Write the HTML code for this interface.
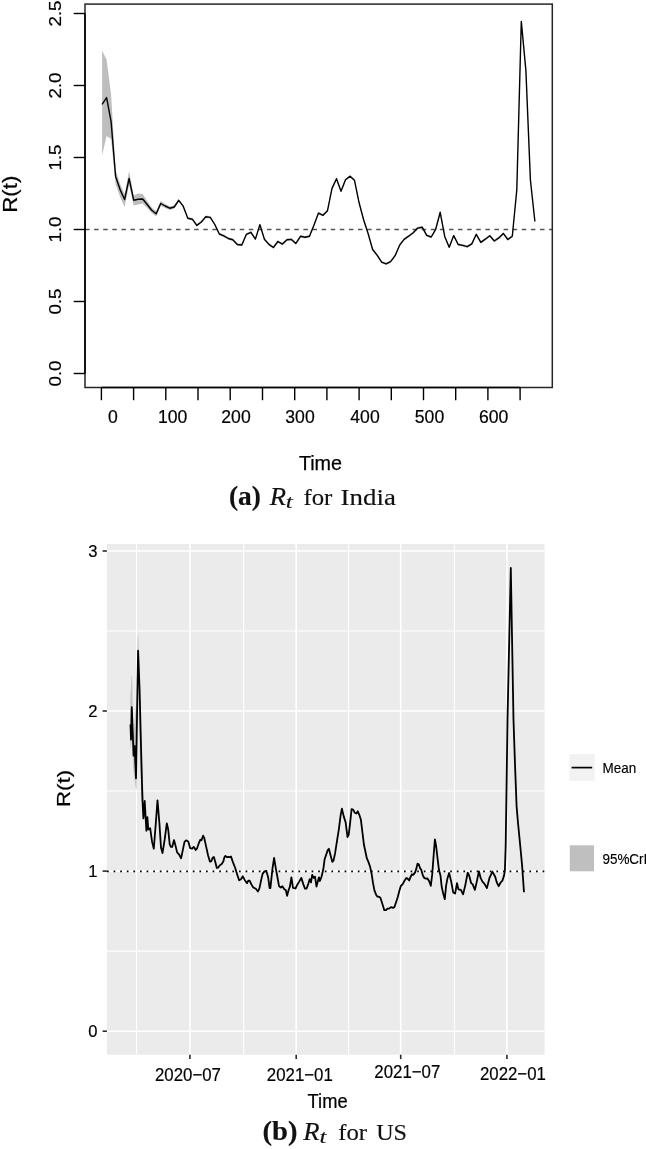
<!DOCTYPE html>
<html lang="en"><head><meta charset="utf-8"><title>R(t) for India and US</title>
<style>
html,body{margin:0;padding:0;background:#fff;}
body{width:646px;height:1149px;overflow:hidden;}
svg{display:block;}
</style></head><body>
<svg width="646" height="1149" viewBox="0 0 646 1149">
<rect width="646" height="1149" fill="#fff"/>
<g font-family="'Liberation Sans', sans-serif" fill="#000" stroke="#000" stroke-width="0">
<path d="M102.1,50.5 L106.6,59.8 L111.1,94.5 L115.6,170.0 L120.1,184.0 L124.6,194.0 L129.1,171.0 L133.7,195.5 L138.2,193.5 L142.7,194.0 L147.2,201.0 L151.7,207.5 L156.2,211.0 L160.7,201.0 L165.2,204.0 L169.7,206.5 L174.2,205.3 L178.7,198.8 L178.7,201.8 L174.2,208.7 L169.7,210.0 L165.2,208.0 L160.7,206.0 L156.2,216.5 L151.7,213.0 L147.2,208.0 L142.7,203.5 L138.2,204.5 L133.7,205.5 L129.1,185.0 L124.6,207.0 L120.1,197.0 L115.6,184.0 L111.1,139.0 L106.6,136.0 L102.1,155.2Z" fill="#bebebe"/>
<path d="M178.7,199.0 L183.2,204.9 L187.8,217.0 L192.3,217.9 L196.8,224.1 L201.3,220.7 L205.8,215.4 L210.3,216.1 L214.8,223.2 L219.3,232.7 L223.8,234.6 L228.3,237.2 L232.8,238.4 L237.3,243.2 L241.8,243.7 L246.4,233.0 L250.9,231.0 L255.4,237.8 L259.9,223.3 L264.4,237.9 L268.9,243.1 L273.4,246.2 L277.9,240.2 L282.4,242.8 L286.9,238.5 L291.4,238.1 L295.9,242.1 L300.5,235.0 L305.0,236.0 L309.5,235.0 L314.0,223.7 L318.5,211.8 L323.0,214.0 L327.5,209.4 L332.0,187.1 L336.5,177.4 L341.0,189.9 L345.5,178.4 L350.0,175.0 L354.5,179.0 L359.1,201.5 L363.6,218.5 L368.1,232.2 L372.6,248.2 L377.1,253.8 L381.6,260.9 L386.1,262.5 L390.6,260.4 L395.1,254.4 L399.6,243.9 L404.1,238.0 L408.6,234.9 L413.2,231.5 L417.7,226.8 L422.2,225.9 L426.7,234.0 L431.2,235.7 L435.7,228.0 L440.2,211.0 L444.7,235.1 L449.2,245.9 L453.7,234.3 L458.2,243.2 L462.7,244.1 L467.2,245.4 L471.8,242.6 L476.3,233.0 L480.8,241.0 L485.3,237.9 L489.8,234.5 L494.3,239.7 L498.8,236.6 L503.3,232.1 L507.8,238.2 L512.3,234.9 L512.3,237.5 L507.8,240.8 L503.3,234.7 L498.8,239.2 L494.3,242.3 L489.8,237.1 L485.3,240.5 L480.8,243.6 L476.3,235.6 L471.8,245.2 L467.2,248.0 L462.7,246.7 L458.2,245.8 L453.7,236.9 L449.2,248.5 L444.7,237.7 L440.2,213.6 L435.7,230.6 L431.2,238.3 L426.7,236.6 L422.2,228.5 L417.7,229.4 L413.2,234.1 L408.6,237.5 L404.1,240.6 L399.6,246.5 L395.1,257.0 L390.6,263.0 L386.1,265.1 L381.6,263.5 L377.1,256.4 L372.6,250.8 L368.1,234.8 L363.6,221.1 L359.1,204.1 L354.5,181.6 L350.0,177.6 L345.5,181.0 L341.0,192.5 L336.5,180.0 L332.0,189.7 L327.5,212.0 L323.0,216.6 L318.5,214.4 L314.0,226.3 L309.5,237.6 L305.0,238.6 L300.5,237.6 L295.9,244.7 L291.4,240.7 L286.9,241.1 L282.4,245.4 L277.9,242.8 L273.4,248.8 L268.9,245.7 L264.4,240.5 L259.9,225.9 L255.4,240.4 L250.9,233.6 L246.4,235.6 L241.8,246.3 L237.3,245.8 L232.8,241.0 L228.3,239.8 L223.8,237.2 L219.3,235.3 L214.8,225.8 L210.3,218.7 L205.8,218.0 L201.3,223.3 L196.8,226.7 L192.3,220.5 L187.8,219.6 L183.2,207.5 L178.7,201.6Z" fill="#c8c8c8"/>
<line x1="85" x2="552.3" y1="229.5" y2="229.5" stroke="#555" stroke-width="1.3" stroke-dasharray="4.5 4.6" stroke-dashoffset="0"/>
<path d="M102.1,104.4 L106.6,97.6 L111.1,121.7 L115.6,176.4 L120.1,189.6 L124.6,199.5 L129.1,178.5 L133.7,200.2 L138.2,199.3 L142.7,199.0 L147.2,204.5 L151.7,210.3 L156.2,213.8 L160.7,203.5 L165.2,206.0 L169.7,208.2 L174.2,207.0 L178.7,200.3 L183.2,206.2 L187.8,218.3 L192.3,219.2 L196.8,225.4 L201.3,222.0 L205.8,216.7 L210.3,217.4 L214.8,224.5 L219.3,234.0 L223.8,235.9 L228.3,238.5 L232.8,239.7 L237.3,244.5 L241.8,245.0 L246.4,234.3 L250.9,232.3 L255.4,239.1 L259.9,224.6 L264.4,239.2 L268.9,244.4 L273.4,247.5 L277.9,241.5 L282.4,244.1 L286.9,239.8 L291.4,239.4 L295.9,243.4 L300.5,236.3 L305.0,237.3 L309.5,236.3 L314.0,225.0 L318.5,213.1 L323.0,215.3 L327.5,210.7 L332.0,188.4 L336.5,178.7 L341.0,191.2 L345.5,179.7 L350.0,176.3 L354.5,180.3 L359.1,202.8 L363.6,219.8 L368.1,233.5 L372.6,249.5 L377.1,255.1 L381.6,262.2 L386.1,263.8 L390.6,261.7 L395.1,255.7 L399.6,245.2 L404.1,239.3 L408.6,236.2 L413.2,232.8 L417.7,228.1 L422.2,227.2 L426.7,235.3 L431.2,237.0 L435.7,229.3 L440.2,212.3 L444.7,236.4 L449.2,247.2 L453.7,235.6 L458.2,244.5 L462.7,245.4 L467.2,246.7 L471.8,243.9 L476.3,234.3 L480.8,242.3 L485.3,239.2 L489.8,235.8 L494.3,241.0 L498.8,237.9 L503.3,233.4 L507.8,239.5 L512.3,236.2 L516.8,189.7 L521.3,21.4 L525.9,70.6 L530.4,180.0 L534.9,221.5" fill="none" stroke="#000" stroke-width="1.4" stroke-linejoin="round"/>
<rect x="85" y="4.1" width="467.3" height="383.4" fill="none" stroke="#262626" stroke-width="1.5"/>
<path d="M85,13.5 V373.5 M101.4,387.5 H520.2" fill="none" stroke="#000" stroke-width="1.55"/>
<line x1="73.7" x2="85" y1="373.5" y2="373.5" stroke="#000" stroke-width="1.4"/>
<text transform="translate(61.3,373.5) rotate(-90) scale(1.09,1)" text-anchor="middle" font-size="17.3" stroke-width="0.2">0.0</text>
<line x1="73.7" x2="85" y1="301.5" y2="301.5" stroke="#000" stroke-width="1.4"/>
<text transform="translate(61.3,301.5) rotate(-90) scale(1.09,1)" text-anchor="middle" font-size="17.3" stroke-width="0.2">0.5</text>
<line x1="73.7" x2="85" y1="229.5" y2="229.5" stroke="#000" stroke-width="1.4"/>
<text transform="translate(61.3,229.5) rotate(-90) scale(1.09,1)" text-anchor="middle" font-size="17.3" stroke-width="0.2">1.0</text>
<line x1="73.7" x2="85" y1="157.5" y2="157.5" stroke="#000" stroke-width="1.4"/>
<text transform="translate(61.3,157.5) rotate(-90) scale(1.09,1)" text-anchor="middle" font-size="17.3" stroke-width="0.2">1.5</text>
<line x1="73.7" x2="85" y1="85.5" y2="85.5" stroke="#000" stroke-width="1.4"/>
<text transform="translate(61.3,85.5) rotate(-90) scale(1.09,1)" text-anchor="middle" font-size="17.3" stroke-width="0.2">2.0</text>
<line x1="73.7" x2="85" y1="13.5" y2="13.5" stroke="#000" stroke-width="1.4"/>
<text transform="translate(61.3,13.5) rotate(-90) scale(1.09,1)" text-anchor="middle" font-size="17.3" stroke-width="0.2">2.5</text>
<line x1="101.4" x2="101.4" y1="387.5" y2="400.2" stroke="#000" stroke-width="1.4"/>
<line x1="133.6" x2="133.6" y1="387.5" y2="400.2" stroke="#000" stroke-width="1.4"/>
<line x1="165.8" x2="165.8" y1="387.5" y2="400.2" stroke="#000" stroke-width="1.4"/>
<line x1="198.0" x2="198.0" y1="387.5" y2="400.2" stroke="#000" stroke-width="1.4"/>
<line x1="230.2" x2="230.2" y1="387.5" y2="400.2" stroke="#000" stroke-width="1.4"/>
<line x1="262.5" x2="262.5" y1="387.5" y2="400.2" stroke="#000" stroke-width="1.4"/>
<line x1="294.7" x2="294.7" y1="387.5" y2="400.2" stroke="#000" stroke-width="1.4"/>
<line x1="326.9" x2="326.9" y1="387.5" y2="400.2" stroke="#000" stroke-width="1.4"/>
<line x1="359.1" x2="359.1" y1="387.5" y2="400.2" stroke="#000" stroke-width="1.4"/>
<line x1="391.3" x2="391.3" y1="387.5" y2="400.2" stroke="#000" stroke-width="1.4"/>
<line x1="423.5" x2="423.5" y1="387.5" y2="400.2" stroke="#000" stroke-width="1.4"/>
<line x1="455.7" x2="455.7" y1="387.5" y2="400.2" stroke="#000" stroke-width="1.4"/>
<line x1="487.9" x2="487.9" y1="387.5" y2="400.2" stroke="#000" stroke-width="1.4"/>
<line x1="520.1" x2="520.1" y1="387.5" y2="400.2" stroke="#000" stroke-width="1.4"/>
<text x="113.0" y="422.7" text-anchor="middle" font-size="17.6" stroke-width="0.2">0</text>
<text x="172.7" y="422.7" text-anchor="middle" font-size="17.6" stroke-width="0.2">100</text>
<text x="236.0" y="422.7" text-anchor="middle" font-size="17.6" stroke-width="0.2">200</text>
<text x="300.0" y="422.7" text-anchor="middle" font-size="17.6" stroke-width="0.2">300</text>
<text x="365.0" y="422.7" text-anchor="middle" font-size="17.6" stroke-width="0.2">400</text>
<text x="429.5" y="422.7" text-anchor="middle" font-size="17.6" stroke-width="0.2">500</text>
<text x="493.7" y="422.7" text-anchor="middle" font-size="17.6" stroke-width="0.2">600</text>
<text transform="translate(16.7,194.2) rotate(-90) scale(1.15,1)" text-anchor="middle" font-size="19.3" stroke-width="0.22">R(t)</text>
<text x="320.5" y="470" text-anchor="middle" font-size="19.8" stroke-width="0.25">Time</text>
</g>
<g font-family="'Liberation Serif', serif" fill="#111" font-size="22.6" stroke="#111" stroke-width="0.15">
<text x="228.9" y="504.8" font-weight="bold" font-size="26.5" textLength="32" lengthAdjust="spacingAndGlyphs">(a)</text>
<text x="269.8" y="504.8" font-style="italic" font-size="24.3" textLength="16.3" lengthAdjust="spacingAndGlyphs">R</text>
<text x="285.8" y="507.7" font-style="italic" font-size="18.5" textLength="7" lengthAdjust="spacingAndGlyphs">t</text>
<text x="303.4" y="504.8" textLength="28.9" lengthAdjust="spacingAndGlyphs">for</text>
<text x="340.6" y="504.8" textLength="55.3" lengthAdjust="spacingAndGlyphs">India</text>
</g>
<g font-family="'Liberation Sans', sans-serif" fill="#000" stroke="#000" stroke-width="0">
<rect x="106.9" y="543.9" width="437.7" height="510.8" fill="#ebebeb"/>
<line x1="106.9" x2="544.6" y1="631.0" y2="631.0" stroke="#fff" stroke-width="1.1"/>
<line x1="106.9" x2="544.6" y1="791.0" y2="791.0" stroke="#fff" stroke-width="1.1"/>
<line x1="106.9" x2="544.6" y1="951.1" y2="951.1" stroke="#fff" stroke-width="1.1"/>
<line y1="543.9" y2="1054.7" x1="136.5" x2="136.5" stroke="#fff" stroke-width="1.1"/>
<line y1="543.9" y2="1054.7" x1="243.6" x2="243.6" stroke="#fff" stroke-width="1.1"/>
<line y1="543.9" y2="1054.7" x1="348.5" x2="348.5" stroke="#fff" stroke-width="1.1"/>
<line y1="543.9" y2="1054.7" x1="454.5" x2="454.5" stroke="#fff" stroke-width="1.1"/>
<line x1="106.9" x2="544.6" y1="551.0" y2="551.0" stroke="#fff" stroke-width="1.6"/>
<line x1="106.9" x2="544.6" y1="711.0" y2="711.0" stroke="#fff" stroke-width="1.6"/>
<line x1="106.9" x2="544.6" y1="871.1" y2="871.1" stroke="#fff" stroke-width="1.6"/>
<line x1="106.9" x2="544.6" y1="1031.2" y2="1031.2" stroke="#fff" stroke-width="1.6"/>
<line y1="543.9" y2="1054.7" x1="189.9" x2="189.9" stroke="#fff" stroke-width="1.6"/>
<line y1="543.9" y2="1054.7" x1="296.2" x2="296.2" stroke="#fff" stroke-width="1.6"/>
<line y1="543.9" y2="1054.7" x1="400.7" x2="400.7" stroke="#fff" stroke-width="1.6"/>
<line y1="543.9" y2="1054.7" x1="506.9" x2="506.9" stroke="#fff" stroke-width="1.6"/>
<path d="M130.2,700.0 L131.5,676.0 L132.1,676.0 L133.4,735.0 L136.4,700.0 L137.8,635.0 L138.4,635.0 L139.9,690.0 L141.6,760.0 L144.0,800.0 L142.0,805.0 L140.0,760.0 L138.1,668.0 L136.6,790.0 L135.4,786.0 L133.4,770.0 L131.8,740.0 L130.3,750.0Z" fill="#bcbcbc" opacity="0.85"/>
<line x1="106.9" x2="544.6" y1="871.3" y2="871.3" stroke="#000" stroke-width="1.7" stroke-dasharray="1.7 4.9" stroke-dashoffset="-0.1"/>
<path d="M130.5,724.4 L131.0,739.6 L131.8,707.2 L133.6,755.7 L134.6,746.0 L136.0,778.3 L138.1,650.7 L139.6,690.0 L140.6,730.0 L141.5,765.0 L142.4,798.6 L143.4,818.4 L144.7,801.0 L146.4,830.8 L147.4,817.2 L148.3,829.5 L150.2,828.3 L152.1,841.9 L153.8,848.7 L155.6,826.0 L157.5,800.4 L159.4,823.3 L161.0,847.5 L162.5,853.1 L164.7,839.4 L166.8,823.3 L168.2,829.5 L169.7,844.4 L170.9,846.9 L172.2,846.9 L174.0,840.1 L175.2,844.4 L177.1,852.4 L179.0,854.3 L181.1,858.3 L182.7,850.6 L184.5,841.9 L186.1,840.3 L188.3,841.5 L190.1,848.1 L192.2,848.5 L193.8,846.9 L195.7,850.0 L196.9,848.7 L198.8,843.2 L200.4,839.7 L201.5,840.3 L203.1,835.7 L204.3,838.2 L206.2,846.9 L208.1,855.5 L209.9,861.6 L211.3,861.3 L212.6,857.8 L213.9,857.0 L215.5,862.7 L216.8,868.0 L218.0,867.7 L219.9,865.2 L221.7,864.0 L223.3,861.5 L224.4,857.2 L225.4,855.9 L226.7,857.2 L228.5,856.9 L229.8,857.2 L231.0,856.5 L232.9,862.1 L235.3,868.3 L237.2,874.5 L239.1,880.3 L240.9,879.2 L242.8,876.3 L244.4,879.4 L245.9,881.9 L247.1,883.2 L248.3,880.7 L249.6,880.7 L251.4,884.4 L253.3,887.5 L255.8,888.7 L258.0,891.5 L259.5,888.1 L261.3,879.4 L262.6,873.9 L264.4,871.4 L266.3,871.0 L268.2,877.6 L269.6,888.1 L270.4,888.1 L272.5,868.3 L274.1,857.8 L275.8,868.3 L277.4,877.0 L279.1,886.3 L280.8,887.5 L282.4,886.3 L284.3,889.2 L285.9,890.3 L287.1,895.9 L288.7,889.7 L289.9,886.6 L291.4,877.3 L293.0,887.8 L295.5,888.5 L297.3,884.7 L299.2,881.6 L301.3,877.9 L303.3,884.1 L305.0,888.7 L306.6,888.5 L308.2,884.1 L309.7,879.2 L311.0,882.3 L312.2,874.8 L313.7,877.9 L315.0,876.7 L316.5,886.6 L317.8,881.6 L319.0,877.3 L319.9,881.0 L321.5,876.7 L323.3,869.3 L324.6,859.3 L326.1,855.0 L327.7,850.1 L328.9,848.8 L330.8,856.3 L332.3,861.8 L333.5,860.6 L335.1,853.2 L337.0,840.8 L338.8,829.6 L340.7,814.8 L341.9,808.6 L343.8,816.6 L345.6,822.2 L347.5,837.1 L348.7,834.6 L350.2,822.2 L351.6,809.2 L353.1,809.6 L354.9,812.9 L356.5,813.5 L357.8,811.3 L359.3,814.8 L360.9,819.8 L362.4,832.2 L363.9,844.5 L365.5,852.0 L366.8,858.2 L368.4,861.9 L370.1,866.8 L371.7,874.3 L373.0,882.9 L374.4,890.4 L376.1,894.7 L377.3,896.5 L378.9,896.8 L380.4,897.8 L381.6,901.5 L383.2,906.5 L384.3,910.2 L386.0,910.2 L387.4,908.7 L389.1,908.7 L390.9,907.1 L392.8,907.9 L394.4,907.1 L395.9,902.7 L397.7,897.2 L399.2,891.6 L400.8,886.0 L402.7,884.2 L404.3,881.1 L406.4,878.0 L407.6,878.6 L409.2,880.5 L410.7,876.7 L412.0,874.3 L413.2,874.9 L415.1,872.4 L416.5,868.1 L417.5,863.7 L418.8,864.3 L420.0,868.1 L421.3,869.9 L422.9,875.5 L424.3,878.0 L425.8,878.6 L427.4,878.4 L429.2,881.2 L430.8,885.8 L432.2,874.6 L433.7,854.5 L434.9,839.5 L436.1,846.0 L437.4,857.1 L438.9,869.5 L440.5,875.7 L441.7,886.8 L443.2,893.6 L444.8,899.2 L446.1,885.6 L447.5,878.2 L449.1,873.0 L451.0,880.6 L453.2,892.4 L455.1,893.6 L457.0,883.1 L458.4,889.3 L460.9,889.9 L463.1,894.3 L465.2,885.6 L467.7,872.6 L469.0,875.1 L471.1,883.1 L472.7,884.3 L474.9,889.9 L477.0,880.6 L478.9,871.3 L480.7,878.2 L482.6,881.9 L484.4,883.7 L486.9,888.1 L489.4,878.2 L492.4,871.6 L495.2,876.8 L496.8,882.5 L498.7,886.2 L500.6,882.5 L502.4,880.6 L504.0,875.8 L504.9,870.4 L505.7,845.3 L506.5,790.5 L507.5,720.0 L510.8,568.0 L513.5,720.0 L515.1,767.0 L516.6,806.2 L517.9,821.8 L520.5,848.5 L522.1,865.7 L524.0,892.3" fill="none" stroke="#000" stroke-width="1.8" stroke-linejoin="round"/>
<line x1="102.6" x2="106.9" y1="551.0" y2="551.0" stroke="#2a2a2a" stroke-width="1.6"/>
<text x="97.6" y="556.7" text-anchor="end" font-size="16.6" stroke-width="0.18">3</text>
<line x1="102.6" x2="106.9" y1="711.0" y2="711.0" stroke="#2a2a2a" stroke-width="1.6"/>
<text x="97.6" y="716.7" text-anchor="end" font-size="16.6" stroke-width="0.18">2</text>
<line x1="102.6" x2="106.9" y1="871.1" y2="871.1" stroke="#2a2a2a" stroke-width="1.6"/>
<text x="97.6" y="876.8" text-anchor="end" font-size="16.6" stroke-width="0.18">1</text>
<line x1="102.6" x2="106.9" y1="1031.2" y2="1031.2" stroke="#2a2a2a" stroke-width="1.6"/>
<text x="97.6" y="1036.9" text-anchor="end" font-size="16.6" stroke-width="0.18">0</text>
<line y1="1054.7" y2="1059.1" x1="189.9" x2="189.9" stroke="#2a2a2a" stroke-width="1.6"/>
<line y1="1054.7" y2="1059.1" x1="296.2" x2="296.2" stroke="#2a2a2a" stroke-width="1.6"/>
<line y1="1054.7" y2="1059.1" x1="400.7" x2="400.7" stroke="#2a2a2a" stroke-width="1.6"/>
<line y1="1054.7" y2="1059.1" x1="506.9" x2="506.9" stroke="#2a2a2a" stroke-width="1.6"/>
<text transform="translate(188.0,1080.9) scale(0.93,1)" text-anchor="middle" font-size="18.1" stroke-width="0.18">2020−07</text>
<text transform="translate(299.8,1080.9) scale(0.93,1)" text-anchor="middle" font-size="18.1" stroke-width="0.18">2021−01</text>
<text transform="translate(407.3,1078.2) scale(0.93,1)" text-anchor="middle" font-size="18.1" stroke-width="0.18">2021−07</text>
<text transform="translate(512.9,1080.4) scale(0.93,1)" text-anchor="middle" font-size="18.1" stroke-width="0.18">2022−01</text>
<text transform="translate(69.8,788.5) rotate(-90) scale(1.16,1)" text-anchor="middle" font-size="19.2" stroke-width="0.22">R(t)</text>
<text transform="translate(327.6,1108.3) scale(0.95,1)" text-anchor="middle" font-size="19.3" stroke-width="0.22">Time</text>
<rect x="569.4" y="754" width="25.2" height="27" fill="#f2f2f2"/>
<line x1="571.6" x2="592.2" y1="767.6" y2="767.6" stroke="#000" stroke-width="1.7"/>
<text transform="translate(602.6,772.6) scale(0.95,1)" font-size="14.2" stroke-width="0.15">Mean</text>
<rect x="569.8" y="845.3" width="24.2" height="26" fill="#bfbfbf"/>
<text transform="translate(602.4,863.8) scale(0.95,1)" font-size="14.2" stroke-width="0.15">95%CrI</text>
</g>
<g font-family="'Liberation Serif', serif" fill="#111" font-size="22.6" stroke="#111" stroke-width="0.15">
<text x="262.5" y="1139.8" font-weight="bold" font-size="26.5" textLength="35" lengthAdjust="spacingAndGlyphs">(b)</text>
<text x="303.3" y="1139.8" font-style="italic" font-size="24.3" textLength="16.3" lengthAdjust="spacingAndGlyphs">R</text>
<text x="319.4" y="1142.7" font-style="italic" font-size="18.5" textLength="7" lengthAdjust="spacingAndGlyphs">t</text>
<text x="338.2" y="1139.8" textLength="28.9" lengthAdjust="spacingAndGlyphs">for</text>
<text x="376.2" y="1139.8" textLength="30.8" lengthAdjust="spacingAndGlyphs">US</text>
</g>
</svg>
</body></html>
